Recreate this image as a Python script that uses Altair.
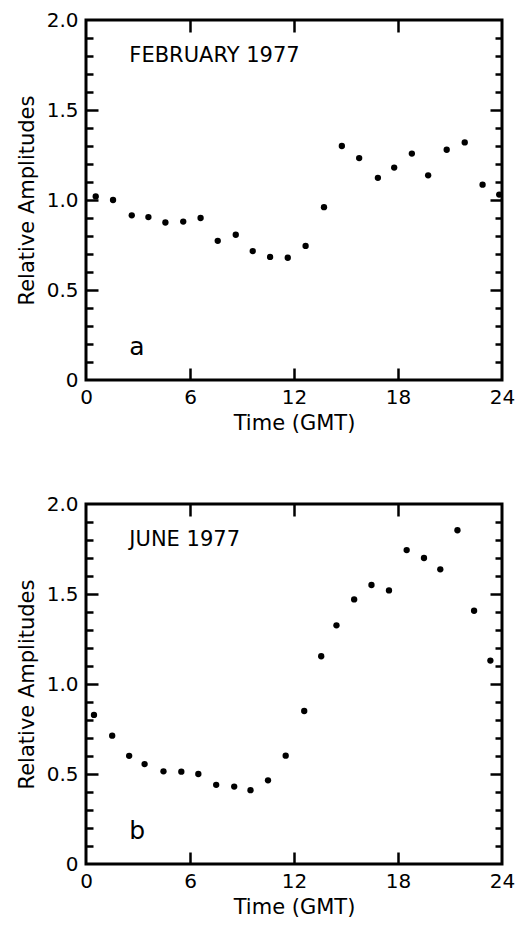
import altair as alt
import pandas as pd

# ---- data ----
hours_feb = [0.56, 1.56, 2.64, 3.6, 4.58, 5.61, 6.61, 7.6, 8.64, 9.62, 10.62, 11.64,
             12.67, 13.73, 14.76, 15.76, 16.84, 17.78, 18.8, 19.74, 20.81, 21.85, 22.88, 23.84]
amp_feb = [1.02, 1.0, 0.915, 0.905, 0.875, 0.88, 0.90, 0.773, 0.807, 0.716, 0.684, 0.679,
           0.745, 0.96, 1.30, 1.233, 1.123, 1.18, 1.258, 1.137, 1.279, 1.32, 1.085, 1.03]

hours_jun = [0.46, 1.51, 2.49, 3.38, 4.47, 5.5, 6.48, 7.51, 8.55, 9.49, 10.5, 11.52,
             12.59, 13.57, 14.45, 15.47, 16.47, 17.48, 18.5, 19.5, 20.44, 21.43, 22.39, 23.33]
amp_jun = [0.828, 0.713, 0.601, 0.555, 0.515, 0.513, 0.50, 0.44, 0.43, 0.41, 0.465, 0.602,
           0.85, 1.154, 1.326, 1.47, 1.55, 1.52, 1.744, 1.70, 1.637, 1.854, 1.407, 1.13]

x_labels = [0, 6, 12, 18, 24]
x_inner_ticks = [6, 12, 18]
y_labels = [0, 0.5, 1.0, 1.5, 2.0]
y_major_ticks = [0.5, 1.0, 1.5]
y_minor_ticks = [0.1, 0.2, 0.3, 0.4, 0.6, 0.7, 0.8, 0.9, 1.1, 1.2, 1.3, 1.4,
                 1.6, 1.7, 1.8, 1.9]

panel_titles = ["FEBRUARY 1977", "JUNE 1977"]
panel_letters = ["a", "b"]

W = 416
H = 360
FONT = "DejaVu Sans"


def tick_axis(orient, offset, values, size):
    return alt.Axis(orient=orient, offset=offset, values=values, tickSize=size,
                    labels=False, domain=False, grid=False, title=None,
                    ticks=True, tickColor="black", tickWidth=2.5)


def panel(hours, amps, month_label, letter):
    df = pd.DataFrame({"t": hours, "a": amps})
    base = alt.Chart(df)
    xs = alt.Scale(domain=[0, 24], nice=False, zero=False)
    ys = alt.Scale(domain=[0, 2], nice=False)

    pts = base.mark_circle(size=40, color="black", opacity=1).encode(
        x=alt.X("t:Q", scale=xs, title="Time (GMT)",
                axis=alt.Axis(values=x_labels, ticks=False, domain=False, grid=False,
                              labelFlush=False, labelPadding=7, titlePadding=5,
                              labelOverlap=False)),
        y=alt.Y("a:Q", scale=ys, title="Relative Amplitudes",
                axis=alt.Axis(values=y_labels, ticks=False, domain=False, grid=False,
                              labelFlush=False, labelPadding=8, titlePadding=9,
                              labelOverlap=False,
                              labelExpr="datum.value == 0 ? '0' : format(datum.value, '.1f')")),
    )

    def ghost_y(axis):
        return base.mark_circle(opacity=0).encode(
            x=alt.X("t:Q", scale=xs, axis=None),
            y=alt.Y("a:Q", scale=ys, axis=axis))

    def ghost_x(axis):
        return base.mark_circle(opacity=0).encode(
            x=alt.X("t:Q", scale=xs, axis=axis),
            y=alt.Y("a:Q", scale=ys, axis=None))

    layers = [
        pts,
        ghost_y(tick_axis("right", -W, y_minor_ticks, 7)),
        ghost_y(tick_axis("right", -W, y_major_ticks, 12)),
        ghost_y(tick_axis("left", -W, y_minor_ticks, 7)),
        ghost_y(tick_axis("left", -W, y_major_ticks, 12)),
        ghost_x(tick_axis("top", -H, x_inner_ticks, 12)),
        ghost_x(tick_axis("bottom", -H, x_inner_ticks, 12)),
    ]

    lab_df = pd.DataFrame({"label": [month_label]})
    let_df = pd.DataFrame({"label": [letter]})
    title_txt = alt.Chart(lab_df).mark_text(
        align="left", baseline="alphabetic", fontSize=21, font=FONT, color="black"
    ).encode(x=alt.XDatum(2.5, axis=None, scale=xs),
             y=alt.YDatum(1.765, axis=None, scale=ys),
             text="label:N")
    letter_txt = alt.Chart(let_df).mark_text(
        align="left", baseline="alphabetic", fontSize=25, font=FONT, color="black"
    ).encode(x=alt.XDatum(2.5, axis=None, scale=xs),
             y=alt.YDatum(0.14, axis=None, scale=ys),
             text="label:N")
    layers += [title_txt, letter_txt]

    return alt.layer(*layers).resolve_axis(x="independent", y="independent").properties(
        width=W, height=H)


top = panel(hours_feb, amp_feb, panel_titles[0], panel_letters[0])
bottom = panel(hours_jun, amp_jun, panel_titles[1], panel_letters[1])

chart = alt.vconcat(top, bottom, spacing=57).properties(
    padding={"left": 6, "top": 0, "right": 0, "bottom": 0}
).configure_view(
    stroke="black", strokeWidth=3
).configure_axis(
    labelFont=FONT, titleFont=FONT, labelFontSize=20, titleFontSize=21,
    labelColor="black", titleColor="black", titleFontWeight="normal"
)

chart.save("out.html", embed_options={"renderer": "svg", "actions": False})
